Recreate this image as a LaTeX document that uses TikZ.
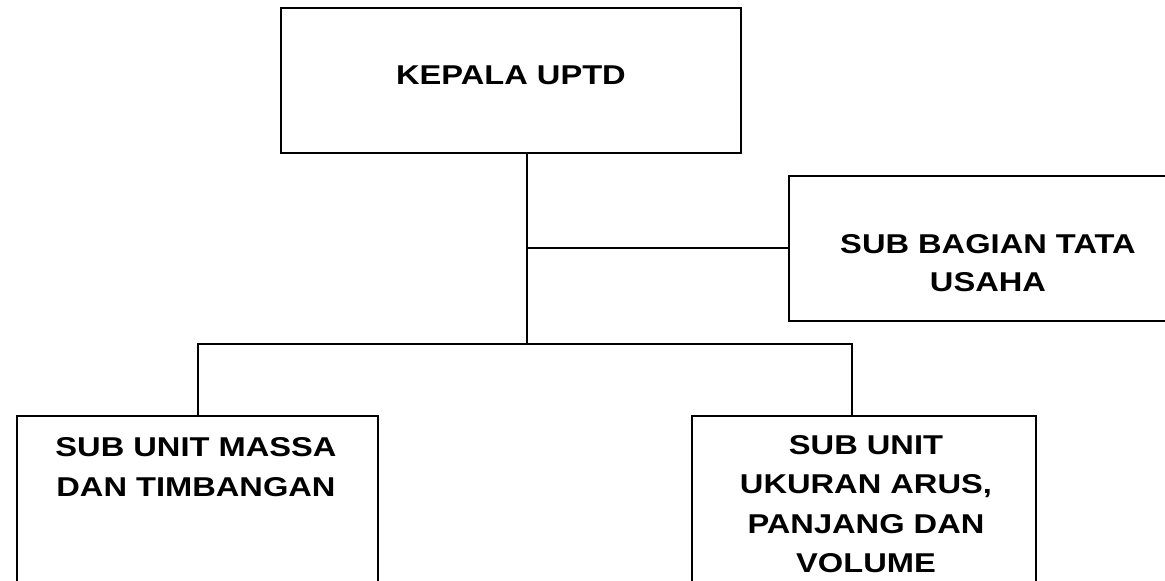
\documentclass[tikz,border=0pt]{standalone}
\usepackage{fontspec}
\newfontfamily\labfont[FakeStretch=1.2]{Liberation Sans Bold}
\begin{document}
\begin{tikzpicture}[x=1pt,y=-1pt,
  box/.style={draw,line width=1.6pt,inner sep=0pt,rectangle},
  conn/.style={draw,line width=1.5pt},
  lbl/.style={inner sep=0pt,align=center,font=\labfont\fontsize{27.2}{#1}\selectfont},
  lbl/.default=40]
\useasboundingbox (0,0) rectangle (1165,581);
\clip (0,0) rectangle (1165,581);
% boxes
\node[box,minimum width=460pt,minimum height=145pt] (kepala) at (511,80.5) {};
\node[box,minimum width=398pt,minimum height=145pt] (tatausaha) at (988,248.5) {};
\node[box,minimum width=361pt,minimum height=230pt] (massa) at (197.5,531) {};
\node[box,minimum width=344pt,minimum height=230pt] (ukuran) at (864,531) {};
% labels
\node[lbl,anchor=north] (tkepala) at (511,66) {KEPALA UPTD};
\node[lbl=38,anchor=north] (ttatausaha) at (988,234.5) {SUB BAGIAN TATA\\USAHA};
\node[lbl,anchor=north] (tmassa) at (196,437.5) {SUB UNIT MASSA\\DAN TIMBANGAN};
\node[lbl=39.5,anchor=north] (tukuran) at (866,435) {SUB UNIT\\UKURAN ARUS,\\PANJANG DAN\\VOLUME};
% connectors
\coordinate (jtop) at (527,248);
\coordinate (jmid) at (527,344);
\coordinate (jl) at (198,344);
\coordinate (jr) at (852,344);
\draw[conn] (kepala.south -| jtop) -- (jmid);
\draw[conn] (jtop) -- (tatausaha.west |- jtop);
\draw[conn] (massa.north -| jl) -- (jl) -- (jr) -- (ukuran.north -| jr);
\end{tikzpicture}
\end{document}
